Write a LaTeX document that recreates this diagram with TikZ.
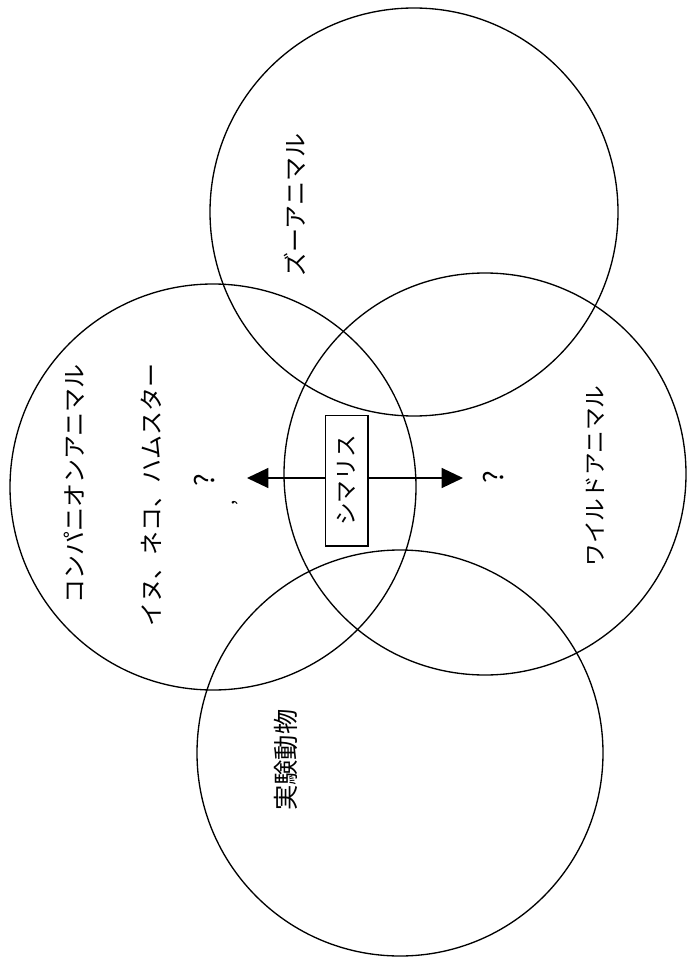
\documentclass[tikz,border=0pt]{standalone}
\usepackage{fontspec}
\newfontfamily\jp{Noto Sans CJK JP}
\usetikzlibrary{arrows.meta}
\begin{document}
\begin{tikzpicture}[x=0.75pt,y=-0.75pt,
  venn/.style={circle, draw, line width=1pt, inner sep=0pt, outer sep=0pt, minimum size=#1},
  lbl/.style={font=\jp\fontsize{#1}{#1}\selectfont, rotate=90, inner sep=0pt},
  arr/.style={line width=1pt, -{Triangle[length=16pt,width=15pt]}}]
\fill[white] (0,0) rectangle (686,962);
\useasboundingbox (0,0) rectangle (686,962);
% circles
\node[venn=306pt] (zoo) at (414,212) {};
\node[venn=304.5pt] (comp) at (213,487) {};
\node[venn=301.5pt] (wild) at (485,474) {};
\node[venn=304.5pt] (lab) at (400,753) {};
% labels
\node[lbl=18] (zool) at (295,205) {ズーアニマル};
\node[lbl=18] (compl) at (74,484) {コンパニオンアニマル};
\node[lbl=18] (pets) at (151,495) {イヌ、ネコ、ハムスター};
\node[lbl=17] (wildl) at (595,476) {ワイルドアニマル};
\node[lbl=19] (labl) at (286,760) {実験動物};
% box
\node[draw, line width=1pt, inner sep=0pt, minimum width=32pt, minimum height=98pt,
      font=\jp\fontsize{17}{17}\selectfont] (box) at (346.5,480.5) {\rotatebox{90}{シマリス}};
% question marks
\node[lbl=20] (ql) at (205,480) {?};
\node[lbl=20] (qr) at (494,477) {?};
\node[lbl=14] (cm) at (235,503) {,};
% arrows
\coordinate (tipL) at (247,478);
\coordinate (tipR) at (463,478);
\draw[arr] (box.west |- tipL) -- (tipL);
\draw[arr] (box.east |- tipR) -- (tipR);
\end{tikzpicture}
\end{document}
